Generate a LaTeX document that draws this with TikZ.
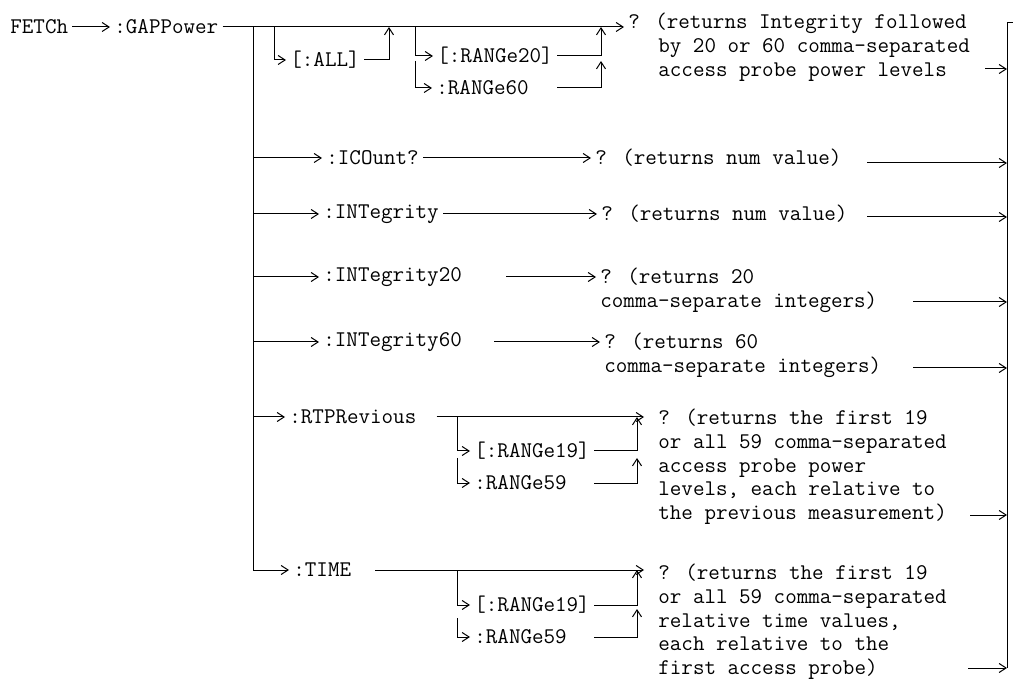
\documentclass[tikz,border=0pt]{standalone}
\usepackage{fontspec}
\newcommand{\cmdsize}{\ttfamily\fontsize{11.2}{11.8}\selectfont}
\usetikzlibrary{arrows.meta}

\begin{document}
\begin{tikzpicture}[
    x=0.5pt, y=-0.5pt,
    cmd/.style={font=\cmdsize, inner xsep=2pt, inner ysep=0pt, anchor=west},
    ret/.style={cmd, align=left, anchor=north west},
    arrow/.style={-{Straight Barb[length=3.5pt,width=4.5pt]}, line width=0.5pt},
    wire/.style={line width=0.5pt}
]
    \useasboundingbox (0,0) rectangle (1013,684);

    % --- FETCh:GAPPower ---
    \node[cmd] (fetch) at (6,27) {FETCh};
    \node[cmd] (gap) at (110,27) {:GAPPower};
    \node[ret] (ret0) at (624,13) {? (returns Integrity followed\\\hspace*{15pt}by 20 or 60 comma-separated\\\hspace*{15pt}access probe power levels};
    \coordinate (trunk) at (253,27);
    \coordinate (bar) at (1007,23);

    \draw[arrow] (fetch) -- (gap);
    \draw[arrow] (gap) -- (gap -| ret0.west);

    % --- [:ALL] ---
    \node[cmd] (all) at (286,60) {[:ALL]};
    \coordinate (allsplit) at (274,27);
    \coordinate (alljoin) at (389,27);
    \draw[arrow] (allsplit) |- (all);
    \draw[arrow] (all) -| (alljoin);

    % --- [:RANGe20] / :RANGe60 ---
    \node[cmd] (r20) at (433,56) {[:RANGe20]};
    \node[cmd] (r60) at (432,88) {:RANGe60};
    \coordinate (rsplit) at (415,27);
    \coordinate (rsplit2) at (415,61);
    \coordinate (rjoin) at (601,27);
    \coordinate (rjoin2) at (601,61);
    \draw[arrow] (rsplit) |- (r20);
    \draw[arrow] (rsplit2) |- (r60);
    \draw[arrow] (r20) -| (rjoin);
    \draw[arrow] (r20.east |- r60) -| (rjoin2);

    % --- :ICOunt? ---
    \node[cmd] (icount) at (322,158) {:ICOunt?};
    \node[cmd] (reticount) at (591,158) {? (returns num value)};
    \draw[arrow] (trunk |- icount) -- (icount);
    \draw[arrow] (icount) -- (reticount);

    % --- :INTegrity ---
    \node[cmd] (integ) at (319,214) {:INTegrity};
    \node[cmd] (retinteg) at (597,214) {? (returns num value)};
    \draw[arrow] (trunk |- integ) -- (integ);
    \draw[arrow] (integ) -- (retinteg);

    % --- :INTegrity20 ---
    \node[cmd] (integ20) at (319,277) {:INTegrity20};
    \node[ret] (retinteg20) at (596,268) {? (returns 20\\comma-separate integers)};
    \draw[arrow] (trunk |- integ20) -- (integ20);
    \draw[arrow, shorten <=20pt] (integ20) -- (integ20 -| retinteg20.west);

    % --- :INTegrity60 ---
    \node[cmd] (integ60) at (319,342) {:INTegrity60};
    \node[ret] (retinteg60) at (600,333) {? (returns 60\\comma-separate integers)};
    \draw[arrow] (trunk |- integ60) -- (integ60);
    \draw[arrow, shorten <=14pt] (integ60) -- (integ60 -| retinteg60.west);

    % --- :RTPRevious ---
    \node[cmd] (rtp) at (285,417) {:RTPRevious};
    \node[cmd] (rtp19) at (470,451) {[:RANGe19]};
    \node[cmd] (rtp59) at (470,483) {:RANGe59};
    \node[ret] (retrtp) at (654,409) {? (returns the first 19\\or all 59 comma-separated\\access probe power\\levels, each relative to\\the previous measurement)};
    \coordinate (rtpsplit) at (457,417);
    \coordinate (rtpsplit2) at (457,458);
    \coordinate (rtpjoin) at (637,417);
    \coordinate (rtpjoin2) at (637,458);
    \draw[arrow] (trunk |- rtp) -- (rtp);
    \draw[arrow, shorten <=8pt, shorten >=5pt] (rtp) -- (rtp -| retrtp.west);
    \draw[arrow] (rtpsplit) |- (rtp19);
    \draw[arrow] (rtpsplit2) |- (rtp59);
    \draw[arrow] (rtp19) -| (rtpjoin);
    \draw[arrow] (rtp19.east |- rtp59) -| (rtpjoin2);

    % --- :TIME ---
    \node[cmd] (time) at (289,570) {:TIME};
    \node[cmd] (time19) at (470,605) {[:RANGe19]};
    \node[cmd] (time59) at (470,637) {:RANGe59};
    \node[ret] (rettime) at (654,564) {? (returns the first 19\\or all 59 comma-separated\\relative time values,\\each relative to the\\first access probe)};
    \coordinate (timesplit) at (457,570);
    \coordinate (timesplit2) at (457,618);
    \coordinate (timejoin) at (637,570);
    \coordinate (timejoin2) at (637,609);
    \draw[arrow] (trunk) |- (time);
    \draw[arrow, shorten <=10pt, shorten >=5pt] (time) -- (time -| rettime.west);
    \draw[arrow] (timesplit) |- (time19);
    \draw[arrow] (timesplit2) |- (time59);
    \draw[arrow] (time19) -| (timejoin);
    \draw[arrow] (time19.east |- time59) -| (timejoin2);

    % --- outputs to the end bar ---
    \coordinate (o0) at (985,69);
    \coordinate (o1) at (867,163);
    \coordinate (o2) at (867,217);
    \coordinate (o3) at (913,302);
    \coordinate (o4) at (913,368);
    \coordinate (o5) at (970,515);
    \coordinate (o6) at (968,668);
    \draw[wire] (1013,23) -- (bar) -- (bar |- o6);
    \draw[arrow] (o0) -- (o0 -| bar);
    \draw[arrow] (o1) -- (o1 -| bar);
    \draw[arrow] (o2) -- (o2 -| bar);
    \draw[arrow] (o3) -- (o3 -| bar);
    \draw[arrow] (o4) -- (o4 -| bar);
    \draw[arrow] (o5) -- (o5 -| bar);
    \draw[arrow] (o6) -- (o6 -| bar);

\end{tikzpicture}
\end{document}
